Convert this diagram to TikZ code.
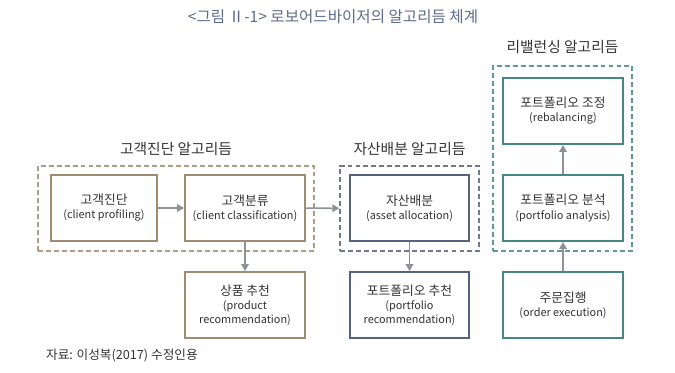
\documentclass[tikz,border=0pt]{standalone}
\usepackage{fontspec}
\setmainfont{Noto Sans CJK KR}
\usetikzlibrary{arrows.meta}
\definecolor{algoBrown}{HTML}{A08C72}
\definecolor{algoNavy}{HTML}{56637C}
\definecolor{algoTeal}{HTML}{468686}
\definecolor{algoGray}{HTML}{8E9298}
\definecolor{algoTitle}{HTML}{5E6C8A}
\definecolor{algoText}{HTML}{333333}
\newcommand{\kor}{\fontsize{10.9}{13}\selectfont}
\newcommand{\eng}{\fontsize{9.3}{11}\selectfont}

\begin{document}
\begin{tikzpicture}[x=0.03cm, y=-0.03cm,
    box/.style={draw, line width=1.6pt, fill=white, minimum width=3.6cm, minimum height=1.98cm, align=center, text=algoText, inner sep=1pt},
    grp/.style={draw, dashed, dash pattern=on 4.2pt off 2.6pt, line width=1.1pt, minimum height=2.55cm, minimum width=4.17cm},
    grplabel/.style={text=algoText, font=\fontsize{12.6}{14}\selectfont},
    flow/.style={draw=algoGray, line width=1.3pt, -{Triangle[length=6pt, width=6.5pt]}}]
    \useasboundingbox (0,0) rectangle (675,373);
    \node[font=\fontsize{13.3}{15}\selectfont, text=algoTitle] (title) at (333,17) {<그림 Ⅱ-1> 로보어드바이저의 알고리듬 체계};
    \node[grp, draw=algoBrown!85, minimum width=8.28cm] (ga) at (176,208.5) {};
    \node[grp, draw=algoNavy!85] (gb) at (409.5,208.5) {};
    \node[grp, draw=algoTeal!85, minimum height=5.55cm] (gc) at (562.5,158.5) {};
    \node[grplabel] (la) at (176,149) {고객진단 알고리듬};
    \node[grplabel] (lb) at (409.5,149) {자산배분 알고리듬};
    \node[grplabel] (lc) at (562.5,47) {리밸런싱 알고리듬};
    \node[box, draw=algoBrown, minimum width=3.18cm] (pa) at (104,208) {\kor 고객진단\\[0pt]\eng (client profiling)};
    \node[box, draw=algoBrown] (pb) at (245,208) {\kor 고객분류\\[0pt]\eng (client classification)};
    \node[box, draw=algoBrown] (pd) at (245,305) {\kor 상품 추천\\[0pt]\eng (product\\\eng recommendation)};
    \node[box, draw=algoNavy, minimum width=3.57cm] (pc) at (409.5,208) {\kor 자산배분\\[0pt]\eng (asset allocation)};
    \node[box, draw=algoNavy, minimum width=3.57cm] (pe) at (409.5,305) {\kor 포트폴리오 추천\\[0pt]\eng (portfolio\\\eng recommendation)};
    \node[box, draw=algoTeal] (rc) at (563,111) {\kor 포트폴리오 조정\\[0pt]\eng (rebalancing)};
    \node[box, draw=algoTeal] (ra) at (563,208) {\kor 포트폴리오 분석\\[0pt]\eng (portfolio analysis)};
    \node[box, draw=algoTeal] (rb) at (563,305) {\kor 주문집행\\[0pt]\eng (order execution)};
    \draw[flow] (pa) -- (pb);
    \draw[flow] (pb) -- (gb);
    \draw[flow] (pb) -- (pd);
    \draw[flow] (pc) -- (pe);
    \draw[flow] (rb) -- (ra);
    \draw[flow] (ra) -- (rc);
    \node[anchor=west, text=algoText, font=\fontsize{10.8}{12}\selectfont] (src) at (42,356) {자료: 이성복(2017) 수정인용};
\end{tikzpicture}
\end{document}
